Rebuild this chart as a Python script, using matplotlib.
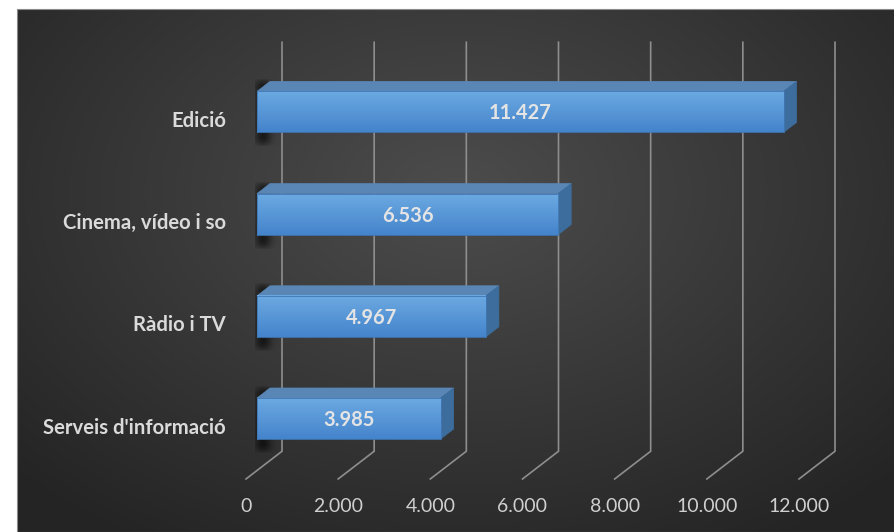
import numpy as np
import matplotlib.pyplot as plt
from matplotlib.patches import Polygon

# data
categories = ["Serveis d'informació", "Ràdio i TV", "Cinema, vídeo i so", "Edició"]
values = [3985, 4967, 6536, 11427]
ticks = [0, 2000, 4000, 6000, 8000, 10000, 12000]
tick_labels = ["0", "2.000", "4.000", "6.000", "8.000", "10.000", "12.000"]

W, H = 895, 532
PX_X = 553 / 12000.0   # pixels per value unit (front plane)
PX_Y = 102.2           # pixels per category
X0 = 257               # pixel x of value 0 on the front plane
Y0 = 113.5             # pixel y (from bottom) of first category centre
SLOPE = 0.77


def depth(d):
    # shift in data units for d pixels of depth (back = right and up)
    return d / PX_X, SLOPE * d / PX_Y


def px2data(xp, yp_top):
    return (xp - X0) / PX_X, (H - yp_top - Y0) / PX_Y


fig = plt.figure(figsize=(W / 100, H / 100), dpi=100, facecolor="white")
ax = fig.add_axes([0, 0, 1, 1])
ax.axis("off")

# background radial gradient
xl, yt = px2data(17, 9)
xr, yb = px2data(W, H)
gx, gy = np.meshgrid(np.linspace(0, 1, 400), np.linspace(0, 1, 300))
r = np.sqrt(((gx - 0.5) / 0.75) ** 2 + ((gy - 0.35) / 0.85) ** 2)
shade = np.clip(0.30 - 0.17 * r, 0.145, 0.30)
bg = np.dstack([shade, shade, shade])
ax.imshow(bg, extent=[xl, xr, yb, yt], aspect="auto", zorder=0, interpolation="bilinear")
ax.plot([xl, xr, xr, xl, xl], [yb, yb, yt, yt, yb], color="#8a8a8a", lw=0.8, zorder=0.5)

# gridlines: floor slant + back wall
floor_y = px2data(0, 470.5)[1]
top_y = px2data(0, 61.5)[1]
fx, fy = depth(-11)
bx, by = depth(25)
for t in ticks:
    ax.plot([t + fx, t + bx, t + bx], [floor_y + fy, floor_y + by, top_y + by],
            color="#8e8e8e", lw=1.2, zorder=1, solid_joinstyle="miter")
for t, lab in zip(ticks, tick_labels):
    ax.text(t + fx, px2data(0, 506)[1], lab, ha="center", va="center",
            color="#cfcfcf", fontsize=14, family="Lato", zorder=5)

# bars
bh = 41 / PX_Y
dx, dy = depth(13)
grad = np.linspace(0, 1, 64).reshape(-1, 1)
c_top = np.array([0x6c, 0xa9, 0xe2]) / 255
c_bot = np.array([0x44, 0x84, 0xcb]) / 255
front_img = c_top[None, None, :] * (1 - grad[..., None]) + c_bot[None, None, :] * grad[..., None]

for i, (cat, v) in enumerate(zip(categories, values)):
    y1, y2 = i - bh / 2, i + bh / 2
    # cast shadow on the back wall
    sh = np.zeros((60, 40, 4))
    xs = np.linspace(0, 1, 40)
    ys = np.linspace(-1, 1, 60)
    a = np.exp(-((xs - 0.3) / 0.3) ** 2)[None, :] * np.clip(1.2 - np.abs(ys)[:, None] ** 6, 0, 1)
    sh[..., 3] = 0.6 * a
    sx0 = px2data(255, 0)[0]
    sx1 = px2data(282, 0)[0]
    ax.imshow(sh, extent=[sx0, sx1, y1 - 14 / PX_Y, y2 + 12 / PX_Y], aspect="auto",
              zorder=1.5, interpolation="bilinear")
    # front face
    ax.imshow(front_img, extent=[0, v, y1, y2], aspect="auto", zorder=3, interpolation="bilinear")
    ax.plot([0, v, v, 0, 0], [y1, y1, y2, y2, y1], color="#3f77b5", lw=0.6, zorder=3.1)
    # top face
    ax.add_patch(Polygon([(0, y2), (v, y2), (v + dx, y2 + dy), (dx, y2 + dy)],
                         closed=True, facecolor="#5a86b6", edgecolor="#5a86b6", lw=0.5, zorder=2.8))
    # side face
    ax.add_patch(Polygon([(v, y1), (v, y2), (v + dx, y2 + dy), (v + dx, y1 + dy)],
                         closed=True, facecolor="#3c6d9d", edgecolor="#3c6d9d", lw=0.5, zorder=2.8))
    lab = f"{v:,}".replace(",", ".")
    ax.text(v / 2, i - 1.5 / PX_Y, lab, ha="center", va="center", color="#e4e4e4",
            fontsize=14.5, fontweight="bold", family="Lato", zorder=5)
    ax.text(px2data(226, 0)[0], i - 9 / PX_Y, cat, ha="right", va="center", color="#dadada",
            fontsize=14.6, fontweight="bold", family="Lato", zorder=5)

ax.set_xlim(px2data(0, 0)[0], px2data(W, 0)[0])
ax.set_ylim(px2data(0, H)[1], px2data(0, 0)[1])

fig.savefig("out.png", dpi=100, facecolor="white")
